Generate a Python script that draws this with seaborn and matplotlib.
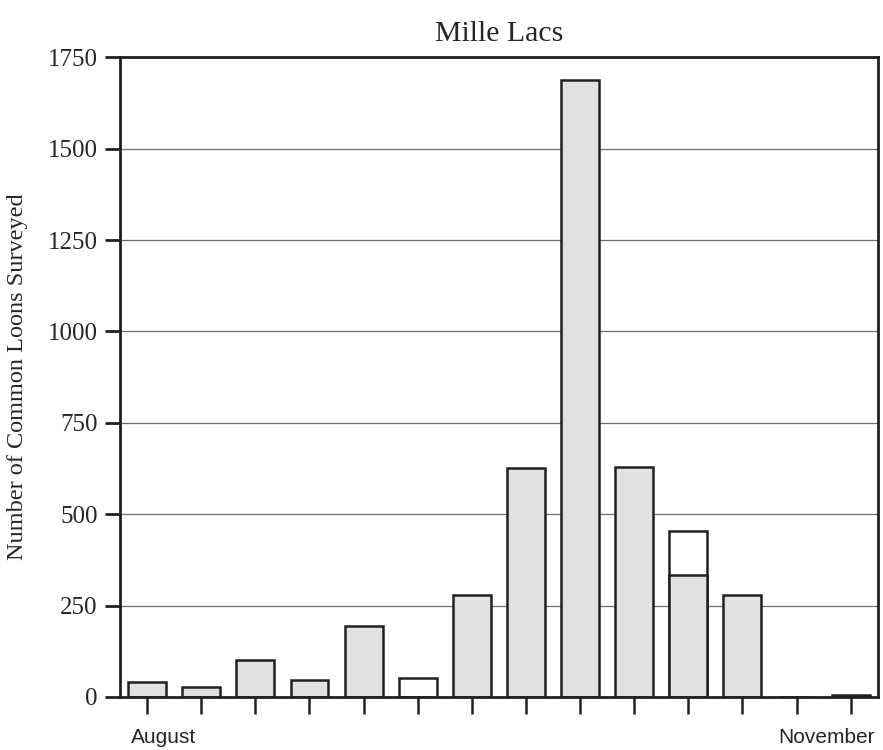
import numpy as np
import pandas as pd
import matplotlib
matplotlib.use("Agg")
import matplotlib.pyplot as plt
import matplotlib.transforms as mtransforms
import seaborn as sns

# weekly survey counts, Mille Lacs (August .. November)
week_ids = list(range(14))
week_labels = ["August", "", "", "", "", "", "", "", "", "", "", "", "", "November"]
totals = [42, 28, 100, 46, 194, 51, 280, 627, 1688, 628, 455, 278, 0, 5]
# grey lower portion of the stacked bar
lower_part = [0, 0, 0, 0, 0, 0, 0, 0, 0, 0, 335, 0, 0, 0]
open_bar = [False, False, False, False, False, True, False, False, False, False, True, False, False, True]

GREY = "#e0e1e3"
EDGE = "#231f20"

sns.set_style("white")
plt.rcParams["font.family"] = ["Liberation Serif", "DejaVu Serif"]

df = pd.DataFrame({"week": week_ids, "count": totals, "lower": lower_part})
fill_colors = ["white" if o else GREY for o in open_bar]

fig = plt.figure(figsize=(8.83, 7.5), dpi=100)
ax = fig.add_axes([0.136, 0.0707, 0.858, 0.853])

# full bars
sns.barplot(data=df, x="week", y="count", hue="week", palette=fill_colors,
            legend=False, width=0.7, edgecolor=EDGE, linewidth=1.8,
            saturation=1, ax=ax)
# grey lower section of the stacked bar
sns.barplot(data=df, x="week", y="lower", color=GREY, width=0.7,
            edgecolor=EDGE, linewidth=1.8, saturation=1, ax=ax)
for p in ax.patches[len(week_ids):]:
    if p.get_height() == 0:
        p.set_visible(False)

ax.set_xlim(-0.5, 13.5)
ax.set_ylim(0, 1750)
ax.set_yticks(np.arange(0, 1751, 250))
ax.yaxis.grid(True, color="#6d6e71", linewidth=0.9)
ax.set_axisbelow(True)

for side in ["left", "right", "top", "bottom"]:
    ax.spines[side].set_visible(True)
    ax.spines[side].set_color(EDGE)
    ax.spines[side].set_linewidth(2.0)

ax.tick_params(axis="y", direction="out", length=11, width=2, color=EDGE,
               labelsize=18, pad=5, left=True)
ax.tick_params(axis="x", direction="out", length=12, width=1.8, color=EDGE,
               pad=10, bottom=True)
ax.set_xticks(week_ids)
ax.set_xticklabels(week_labels, fontsize=15, family=["Liberation Sans", "DejaVu Sans"])

# first label starts near the bar edge, last one ends at the frame
xlabels = ax.get_xticklabels()
xlabels[0].set_ha("left")
xlabels[0].set_transform(xlabels[0].get_transform() +
                         mtransforms.ScaledTranslation(-0.16, 0, fig.dpi_scale_trans))
xlabels[-1].set_ha("right")
xlabels[-1].set_transform(xlabels[-1].get_transform() +
                          mtransforms.ScaledTranslation(0.24, 0, fig.dpi_scale_trans))

ax.set_xlabel("")
ax.set_ylabel("Number of Common Loons Surveyed", fontsize=17.5, labelpad=14)
ax.set_title("Mille Lacs", fontsize=21.5, pad=12)

plt.savefig("out.png", dpi=100)
plt.close()
